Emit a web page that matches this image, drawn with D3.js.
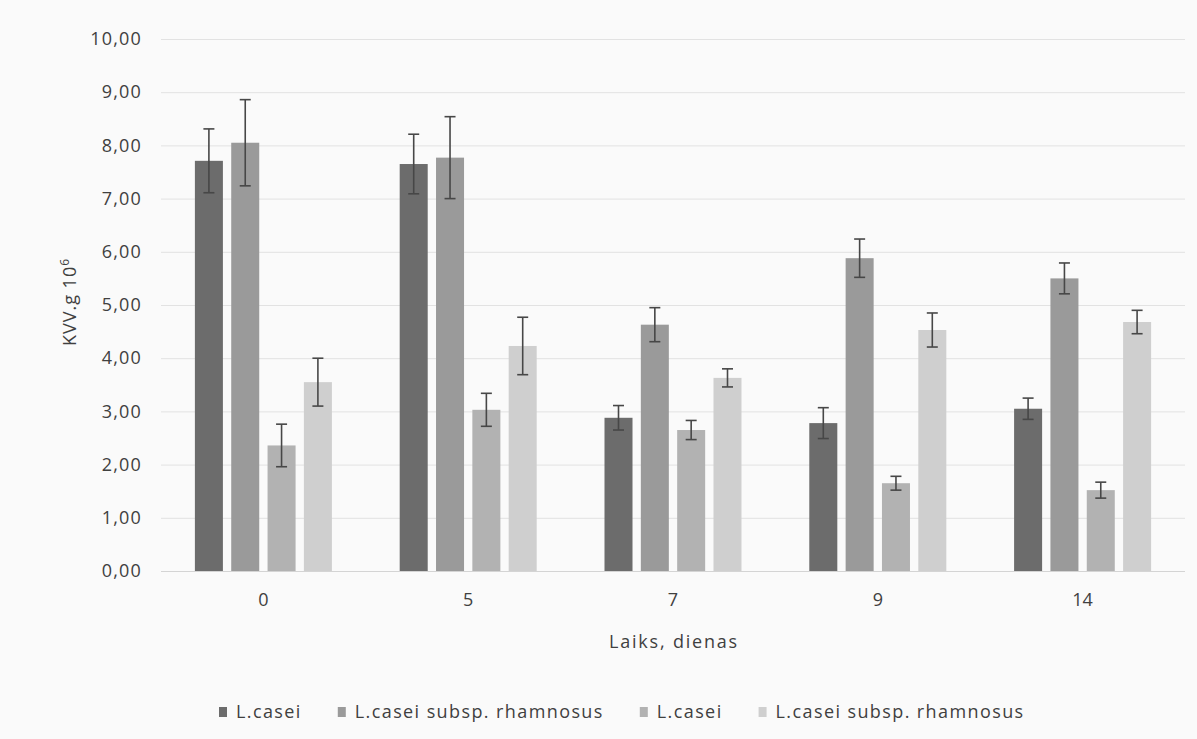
<!DOCTYPE html>
<html>
<head>
<meta charset="utf-8">
<script src="https://cdn.jsdelivr.net/npm/d3@7/dist/d3.min.js"></script>
<style>
  html, body { margin: 0; padding: 0; background: #fafafa; }
  svg { display: block; }
  text { font-family: "Open Sans", "Lato", sans-serif; fill: #404040; }
</style>
</head>
<body>
<svg id="chart" width="1197" height="739"></svg>
<script>
// Days of storage
const days = ["0", "5", "7", "9", "14"];
const seriesNames = ["L.casei", "L.casei subsp. rhamnosus", "L.casei", "L.casei subsp. rhamnosus"];
const seriesColors = ["#6c6c6c", "#9a9a9a", "#b2b2b2", "#cfcfcf"];

// Mean counts per series (one value per day)
const caseiA      = [7.71, 7.65, 2.88, 2.78, 3.05];
const rhamnosusA  = [8.05, 7.77, 4.63, 5.88, 5.50];
const caseiB      = [2.36, 3.03, 2.65, 1.65, 1.52];
const rhamnosusB  = [3.55, 4.23, 3.63, 4.53, 4.68];

// Standard deviations (error bar half-lengths)
const caseiAErr     = [0.60, 0.56, 0.23, 0.29, 0.20];
const rhamnosusAErr = [0.81, 0.77, 0.32, 0.36, 0.29];
const caseiBErr     = [0.40, 0.31, 0.18, 0.13, 0.15];
const rhamnosusBErr = [0.45, 0.54, 0.17, 0.32, 0.22];

const yTicks = [0, 1, 2, 3, 4, 5, 6, 7, 8, 9, 10];

const values = [caseiA, rhamnosusA, caseiB, rhamnosusB];
const errors = [caseiAErr, rhamnosusAErr, caseiBErr, rhamnosusBErr];

const svg = d3.select("#chart");
const plot = { left: 161, right: 1185, top: 39, bottom: 571 };

const x0 = d3.scaleBand().domain(days).range([plot.left, plot.right])
  .paddingInner(0.331).paddingOuter(0.1655);
const x1 = d3.scaleBand().domain(d3.range(seriesNames.length))
  .range([0, x0.bandwidth()]).paddingInner(0.229).paddingOuter(0);
const y = d3.scaleLinear().domain([0, 10]).range([plot.bottom, plot.top]);

const fmt = v => d3.format(".2f")(v).replace(".", ",");

// Horizontal gridlines
svg.append("g")
  .selectAll("line").data(yTicks).join("line")
  .attr("x1", plot.left).attr("x2", plot.right)
  .attr("y1", d => y(d) + 0.5).attr("y2", d => y(d) + 0.5)
  .attr("stroke", d => d === 0 ? "#d4d4d4" : "#e2e2e2")
  .attr("stroke-width", 1);

// Y axis labels
const yAxis = d3.axisLeft(y).tickValues(yTicks).tickFormat(fmt).tickSize(0).tickPadding(19);
const gy = svg.append("g").attr("transform", `translate(${plot.left},0)`).call(yAxis);
gy.select(".domain").remove();
gy.selectAll("text").attr("font-size", 18).style("font-family", '"Open Sans", sans-serif')
  .attr("fill", "#404040").attr("letter-spacing", "1.2px");

// X axis labels
const xAxis = d3.axisBottom(x0).tickSize(0).tickPadding(22);
const gx = svg.append("g").attr("transform", `translate(0,${plot.bottom})`).call(xAxis);
gx.select(".domain").remove();
gx.selectAll("text").attr("font-size", 18).style("font-family", '"Open Sans", sans-serif')
  .attr("fill", "#404040");

// Bars
const groups = svg.append("g").selectAll("g").data(days).join("g")
  .attr("transform", d => `translate(${x0(d)},0)`);

groups.selectAll("rect")
  .data((d, i) => values.map((s, k) => ({ k, v: s[i], e: errors[k][i] })))
  .join("rect")
  .attr("x", d => x1(d.k))
  .attr("width", x1.bandwidth())
  .attr("y", d => y(d.v))
  .attr("height", d => y(0) - y(d.v))
  .attr("fill", d => seriesColors[d.k]);

// Error bars
const capHalf = 5.5;
const err = groups.selectAll("g.err")
  .data((d, i) => values.map((s, k) => ({ k, v: s[i], e: errors[k][i] })))
  .join("g").attr("class", "err")
  .attr("stroke", "#474747").attr("stroke-width", 1.6);
err.append("line")
  .attr("x1", d => x1(d.k) + x1.bandwidth() / 2).attr("x2", d => x1(d.k) + x1.bandwidth() / 2)
  .attr("y1", d => y(d.v + d.e)).attr("y2", d => y(d.v - d.e));
err.append("line")
  .attr("x1", d => x1(d.k) + x1.bandwidth() / 2 - capHalf).attr("x2", d => x1(d.k) + x1.bandwidth() / 2 + capHalf)
  .attr("y1", d => y(d.v + d.e)).attr("y2", d => y(d.v + d.e));
err.append("line")
  .attr("x1", d => x1(d.k) + x1.bandwidth() / 2 - capHalf).attr("x2", d => x1(d.k) + x1.bandwidth() / 2 + capHalf)
  .attr("y1", d => y(d.v - d.e)).attr("y2", d => y(d.v - d.e));

// Axis titles
svg.append("text")
  .attr("x", 674).attr("y", 648)
  .attr("text-anchor", "middle").attr("font-size", 18)
  .attr("letter-spacing", "1.8px")
  .text("Laiks, dienas");

const yTitle = svg.append("text")
  .attr("transform", "translate(76,302) rotate(-90)")
  .attr("text-anchor", "middle").attr("font-size", 18)
  .attr("letter-spacing", "1px");
yTitle.append("tspan").text("KVV.g 10");
yTitle.append("tspan").attr("font-size", 12).attr("dy", -7).text("6");

// Legend
const legend = svg.append("g").attr("transform", "translate(219,718)");
let cursor = 0;
const items = legend.selectAll("g").data(seriesNames).join("g");
items.append("rect").attr("width", 8).attr("height", 10).attr("y", -11)
  .attr("fill", (d, i) => seriesColors[i]);
items.append("text").attr("x", 17).attr("y", 0).attr("font-size", 18)
  .attr("letter-spacing", "1.4px")
  .text(d => d);
items.each(function () {
  const g = d3.select(this);
  g.attr("transform", `translate(${cursor},0)`);
  cursor += 17 + g.select("text").node().getComputedTextLength() + 36;
});
</script>
</body>
</html>
